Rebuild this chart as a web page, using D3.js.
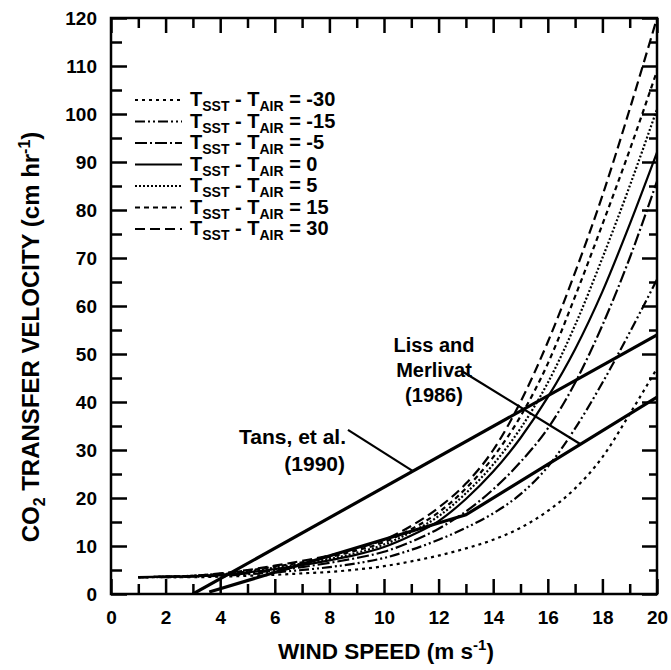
<!DOCTYPE html>
<html>
<head>
<meta charset="utf-8">
<script src="https://cdn.jsdelivr.net/npm/d3@7"></script>
<style>
  body { margin: 0; background: #fff; }
  text { font-family: "Liberation Sans", Arial, Helvetica, sans-serif; font-weight: bold; fill: #000; white-space: pre; }
</style>
</head>
<body>
<svg width="671" height="670"></svg>
<script>
// wind speed (m/s) at which the stability curves were read
const windSpeed = [1, 2, 3, 4, 5, 6, 7, 8, 9, 10, 11, 12, 13, 14, 15, 16, 17, 18, 19, 20];

// CO2 transfer velocity (cm/hr) for each T_SST - T_AIR
const tempDiffs = ["-30", "-15", "-5", "0", "5", "15", "30"];
const kMinus30 = [3.5, 3.5, 3.5, 3.6, 3.8, 4.0, 4.3, 4.6, 5.1, 5.8, 6.8, 8.0, 9.5, 11.3, 13.8, 17.3, 22, 28.5, 37.5, 47];
const kMinus15 = [3.5, 3.5, 3.6, 3.8, 4.1, 4.5, 5.0, 5.6, 6.4, 7.5, 9.2, 11.3, 13.8, 16.8, 20.8, 26.5, 34.5, 44, 54.5, 65.5];
const kMinus5  = [3.5, 3.6, 3.7, 3.9, 4.3, 4.9, 5.6, 6.5, 7.5, 8.8, 10.9, 13.6, 17.2, 21.8, 27.5, 34.5, 44, 56, 70, 86];
const kZero    = [3.5, 3.6, 3.7, 4.0, 4.5, 5.2, 6.0, 7.0, 8.2, 9.8, 12.2, 15.2, 19.8, 25.5, 32.5, 41, 51, 63, 77, 92];
const kPlus5   = [3.5, 3.6, 3.8, 4.1, 4.7, 5.5, 6.3, 7.3, 8.6, 10.3, 12.9, 16.2, 21, 27, 34.5, 44, 56, 70, 85, 101];
const kPlus15  = [3.5, 3.6, 3.8, 4.2, 4.9, 5.7, 6.6, 7.7, 9.1, 10.8, 13.5, 17, 22, 28.5, 37, 48, 62, 77, 92.5, 109];
const kPlus30  = [3.5, 3.6, 3.8, 4.3, 5.0, 5.9, 6.9, 8.0, 9.5, 11.3, 14.2, 18, 23, 30, 40, 52.5, 67, 83, 101, 120];
const kSeries = [kMinus30, kMinus15, kMinus5, kZero, kPlus5, kPlus15, kPlus30];

// reference relationships
const tansWind = [3, 20];
const tansK = [0, 54];
const lissWind = [3.6, 13, 20];
const lissK = [0.4, 16.5, 41];

// axis ticks
const xMajor = [0, 2, 4, 6, 8, 10, 12, 14, 16, 18, 20];
const xMinor = [1, 3, 5, 7, 9, 11, 13, 15, 17, 19];
const yMajor = [0, 10, 20, 30, 40, 50, 60, 70, 80, 90, 100, 110, 120];
const yMinor = [5, 15, 25, 35, 45, 55, 65, 75, 85, 95, 105, 115];

const svg = d3.select("svg");

const x = d3.scaleLinear().domain([0, 20]).range([111, 657]);
const y = d3.scaleLinear().domain([0, 120]).range([594, 18]);

// line styles, same order as tempDiffs
const dashes = ["3,4", "10,3,2,3,2,3", "12,3,2,3", null, "2,2", "5,4", "10,5"];

svg.append("defs").append("clipPath").attr("id", "plot")
    .append("rect")
    .attr("x", x(0)).attr("y", y(120))
    .attr("width", x(20) - x(0)).attr("height", y(0) - y(120));

// axes with inward ticks on all four sides
function styleAxis(g) {
    g.select(".domain").remove();
    g.selectAll("line").attr("stroke", "#000").attr("stroke-width", 2.5);
    g.selectAll("text").attr("font-size", 19).attr("font-family", null);
}

svg.append("g").attr("transform", `translate(${x(0)},0)`)
    .call(d3.axisLeft(y).tickValues(yMajor).tickSizeInner(-16).tickSizeOuter(0).tickPadding(14))
    .call(styleAxis);
svg.append("g").attr("transform", `translate(${x(0)},0)`)
    .call(d3.axisLeft(y).tickValues(yMinor).tickSizeInner(-11).tickSizeOuter(0).tickFormat(() => ""))
    .call(styleAxis);
svg.append("g").attr("transform", `translate(${x(20)},0)`)
    .call(d3.axisRight(y).tickValues(yMajor).tickSizeInner(-15).tickSizeOuter(0).tickFormat(() => ""))
    .call(styleAxis);
svg.append("g").attr("transform", `translate(${x(20)},0)`)
    .call(d3.axisRight(y).tickValues(yMinor).tickSizeInner(-8).tickSizeOuter(0).tickFormat(() => ""))
    .call(styleAxis);
svg.append("g").attr("transform", `translate(0,${y(0)})`)
    .call(d3.axisBottom(x).tickValues(xMajor).tickSizeInner(-15).tickSizeOuter(0).tickPadding(17))
    .call(styleAxis);
svg.append("g").attr("transform", `translate(0,${y(0)})`)
    .call(d3.axisBottom(x).tickValues(xMinor).tickSizeInner(-10).tickSizeOuter(0).tickFormat(() => ""))
    .call(styleAxis);
svg.append("g").attr("transform", `translate(0,${y(120)})`)
    .call(d3.axisTop(x).tickValues(xMajor).tickSizeInner(-15).tickSizeOuter(0).tickFormat(() => ""))
    .call(styleAxis);
svg.append("g").attr("transform", `translate(0,${y(120)})`)
    .call(d3.axisTop(x).tickValues(xMinor).tickSizeInner(-10).tickSizeOuter(0).tickFormat(() => ""))
    .call(styleAxis);

svg.append("rect")
    .attr("x", x(0)).attr("y", y(120))
    .attr("width", x(20) - x(0)).attr("height", y(0) - y(120))
    .attr("fill", "none").attr("stroke", "#000").attr("stroke-width", 2.5);

// curves
const line = d3.line()
    .x(d => x(d[0]))
    .y(d => y(d[1]))
    .curve(d3.curveMonotoneX);

const curves = svg.append("g").attr("clip-path", "url(#plot)");

kSeries.forEach((vals, i) => {
    curves.append("path")
        .datum(windSpeed.map((u, j) => [u, vals[j]]))
        .attr("d", line)
        .attr("fill", "none")
        .attr("stroke", "#000")
        .attr("stroke-width", 2.2)
        .attr("stroke-dasharray", dashes[i]);
});

const straight = d3.line().x(d => x(d[0])).y(d => y(d[1]));

curves.append("path")
    .datum(tansWind.map((u, j) => [u, tansK[j]]))
    .attr("d", straight)
    .attr("fill", "none").attr("stroke", "#000").attr("stroke-width", 3.2);

curves.append("path")
    .datum(lissWind.map((u, j) => [u, lissK[j]]))
    .attr("d", straight)
    .attr("fill", "none").attr("stroke", "#000").attr("stroke-width", 3.2);

// annotations
const tansPointer = [[8.68, 34.2], [11.06, 25.6]];
const lissPointer = [[12.86, 46.4], [17.2, 31.2]];

svg.append("path").datum(tansPointer).attr("d", straight)
    .attr("stroke", "#000").attr("stroke-width", 2.2).attr("fill", "none");
svg.append("path").datum(lissPointer).attr("d", straight)
    .attr("stroke", "#000").attr("stroke-width", 2.2).attr("fill", "none");

const note = svg.append("g").attr("font-size", 20);
note.append("text").attr("x", 434).attr("y", 352).attr("text-anchor", "middle").text("Liss and");
note.append("text").attr("x", 434).attr("y", 377).attr("text-anchor", "middle").text("Merlivat");
note.append("text").attr("x", 434).attr("y", 402).attr("text-anchor", "middle").text("(1986)");
note.append("text").attr("x", 346).attr("y", 444).attr("text-anchor", "end").attr("font-size", 21).text("Tans, et al.");
note.append("text").attr("x", 345).attr("y", 471).attr("text-anchor", "end").attr("font-size", 21).text("(1990)");

// legend
const legend = svg.append("g");
tempDiffs.forEach((label, i) => {
    const cy = 100 + i * 21.5;
    legend.append("line")
        .attr("x1", 135).attr("x2", 182)
        .attr("y1", cy).attr("y2", cy)
        .attr("stroke", "#000").attr("stroke-width", 2.2)
        .attr("stroke-dasharray", dashes[i]);
    const t = legend.append("text").attr("x", 190).attr("y", cy + 6).attr("font-size", 20);
    t.append("tspan").text("T");
    t.append("tspan").attr("dy", 5).attr("font-size", 14).text("SST");
    t.append("tspan").attr("dy", -5).text(" - T");
    t.append("tspan").attr("dy", 5).attr("font-size", 14).text("AIR");
    t.append("tspan").attr("dy", -5).text(" = " + label);
});

// axis titles
const xt = svg.append("text")
    .attr("x", 386).attr("y", 659)
    .attr("text-anchor", "middle").attr("font-size", 22.5);
xt.append("tspan").text("WIND SPEED (m s");
xt.append("tspan").attr("dy", -9).attr("font-size", 15).text("-1");
xt.append("tspan").attr("dy", 9).text(")");

const yt = svg.append("text")
    .attr("transform", `translate(39,337) rotate(-90)`)
    .attr("text-anchor", "middle").attr("font-size", 24);
yt.append("tspan").text("CO");
yt.append("tspan").attr("dy", 6).attr("font-size", 16).text("2");
yt.append("tspan").attr("dy", -6).text(" TRANSFER VELOCITY (cm hr");
yt.append("tspan").attr("dy", -9).attr("font-size", 16).text("-1");
yt.append("tspan").attr("dy", 9).text(")");
</script>
</body>
</html>
